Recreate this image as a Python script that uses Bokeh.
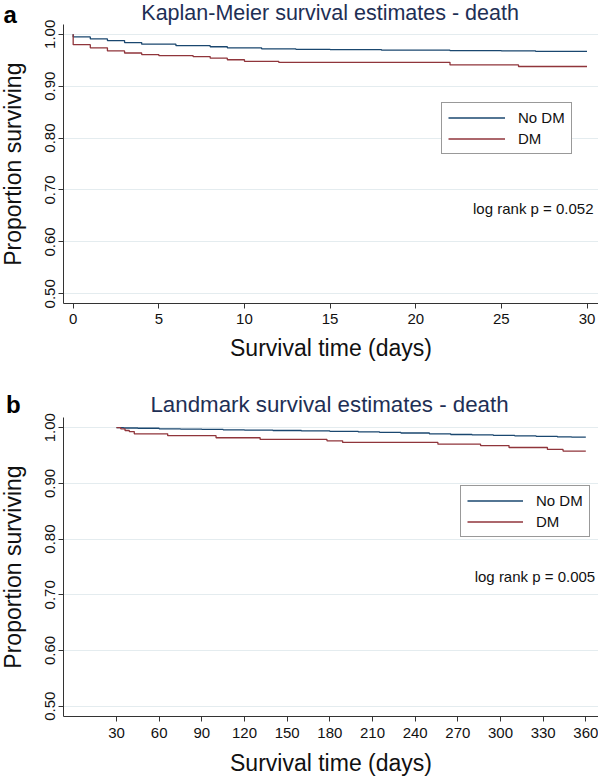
import math
from bokeh.plotting import figure
from bokeh.models import (Range1d, FixedTicker, Legend, LegendItem, Label,
                          PrintfTickFormatter)
from bokeh.layouts import column, row
from bokeh.core.properties import value
from bokeh.embed import file_html
from bokeh.resources import INLINE

# ---------------- data ----------------
# Panel a: Kaplan-Meier, 0-30 days
km_nodm_t = [0, 0, 1, 2, 3, 4, 6, 8, 9, 11, 13, 15, 18, 22, 25, 27, 30]
km_nodm_s = [1.0, 0.995, 0.991, 0.988, 0.984, 0.981, 0.978, 0.976, 0.974,
             0.972, 0.971, 0.9705, 0.9695, 0.9685, 0.968, 0.967, 0.967]
km_dm_t = [0, 0, 1, 2, 3, 4, 5, 7, 8, 9, 10, 12, 22, 26, 30]
km_dm_s = [1.0, 0.980, 0.974, 0.968, 0.964, 0.961, 0.959, 0.957, 0.954,
           0.951, 0.948, 0.946, 0.941, 0.938, 0.938]
km_title = "Kaplan-Meier survival estimates - death"
km_pvalue = "log rank p = 0.052"
km_xticks = [0, 5, 10, 15, 20, 25, 30]

# Panel b: Landmark, 30-360 days
lm_nodm_t = [30, 35, 45, 60, 75, 90, 105, 120, 140, 160, 180, 200, 215, 230,
             250, 265, 280, 295, 310, 325, 340, 350, 360]
lm_nodm_s = [1.0, 0.9995, 0.999, 0.998, 0.9975, 0.997, 0.9962, 0.9955, 0.995,
             0.9942, 0.9935, 0.9925, 0.9915, 0.9905, 0.989, 0.9878, 0.987,
             0.9862, 0.9855, 0.9845, 0.9835, 0.983, 0.983]
lm_dm_t = [30, 33, 36, 39, 42.5, 66, 100, 131, 178, 189, 256, 286, 306, 333,
           344, 360]
lm_dm_s = [1.0, 0.998, 0.995, 0.993, 0.989, 0.9857, 0.982, 0.979, 0.9765,
           0.9735, 0.9705, 0.968, 0.9645, 0.961, 0.958, 0.958]
lm_title = "Landmark survival estimates - death"
lm_pvalue = "log rank p = 0.005"
lm_xticks = [30, 60, 90, 120, 150, 180, 210, 240, 270, 300, 330, 360]

y_ticks = [0.5, 0.6, 0.7, 0.8, 0.9, 1.0]
series_names = ["No DM", "DM"]
panel_letters = ["a", "b"]
y_title = "Proportion surviving"
x_title = "Survival time (days)"

FONT = "Liberation Sans"
BLUE = "#1a476f"
RED = "#90353b"
TITLE_COLOR = "#1e2f55"
AXIS_COLOR = "#333333"
GRID_COLOR = "#e4ecef"
TEXT_COLOR = "#111111"

STRIP_W = 30
TOTAL_H = 779


def make_panel(height, xr, yr, y_axis_top, borders, xticks, t_nodm, s_nodm,
               t_dm, s_dm, title, title_size, title_xy, pval, pval_xy,
               legend_loc, legend_glyph_w, legend_standoff, xlab_standoff,
               xlab_axis_standoff):
    left, right, top, bottom = borders
    p = figure(width=598 - STRIP_W, height=height, x_range=Range1d(*xr),
               y_range=Range1d(*yr), output_backend="svg",
               toolbar_location=None, min_border_left=left,
               min_border_right=right, min_border_top=top,
               min_border_bottom=bottom)
    p.outline_line_color = None
    p.background_fill_color = "white"
    p.border_fill_color = "white"

    p.xaxis.ticker = FixedTicker(ticks=xticks)
    p.yaxis.ticker = FixedTicker(ticks=y_ticks)
    p.yaxis.formatter = PrintfTickFormatter(format="%.2f")
    p.yaxis.major_label_orientation = "vertical"
    p.yaxis.bounds = (yr[0], y_axis_top)
    for ax in (p.xaxis, p.yaxis):
        ax.axis_line_color = AXIS_COLOR
        ax.axis_line_width = 1
        ax.major_tick_line_color = AXIS_COLOR
        ax.major_tick_out = 5
        ax.major_tick_in = 0
        ax.minor_tick_line_color = None
        ax.major_label_text_font = FONT
        ax.major_label_text_font_size = "15px"
        ax.major_label_text_color = TEXT_COLOR
        ax.axis_label_text_font = FONT
        ax.axis_label_text_font_size = "23px"
        ax.axis_label_text_font_style = "normal"
        ax.axis_label_text_color = TEXT_COLOR
    p.xaxis.axis_label = x_title
    p.xaxis.major_label_standoff = xlab_standoff
    p.xaxis.axis_label_standoff = xlab_axis_standoff
    p.yaxis.major_label_standoff = 3

    p.xgrid.grid_line_color = None
    p.ygrid.ticker = FixedTicker(ticks=y_ticks)
    p.ygrid.grid_line_color = GRID_COLOR
    p.ygrid.grid_line_width = 1

    r1 = p.step(t_nodm, s_nodm, mode="after", line_color=BLUE, line_width=1.3)
    r2 = p.step(t_dm, s_dm, mode="after", line_color=RED, line_width=1.3)

    legend = Legend(items=[LegendItem(label=series_names[0], renderers=[r1]),
                           LegendItem(label=series_names[1], renderers=[r2])],
                    location=legend_loc)
    legend.border_line_color = AXIS_COLOR
    legend.border_line_width = 1
    legend.background_fill_color = "white"
    legend.background_fill_alpha = 1
    legend.padding = 6
    legend.spacing = 4
    legend.margin = 0
    legend.glyph_width = legend_glyph_w
    legend.glyph_height = 17
    legend.label_height = 17
    legend.label_standoff = legend_standoff
    legend.label_text_font = FONT
    legend.label_text_font_size = "15px"
    legend.label_text_color = TEXT_COLOR
    p.add_layout(legend)

    p.add_layout(Label(x=title_xy[0], y=title_xy[1], text=title,
                       text_font=FONT, text_font_size=title_size,
                       text_color=TITLE_COLOR, text_align="center",
                       text_baseline="middle"))
    p.add_layout(Label(x=pval_xy[0], y=pval_xy[1], text=pval,
                       text_font=FONT, text_font_size="15px",
                       text_color=TEXT_COLOR, text_align="right",
                       text_baseline="middle"))
    return p


p1 = make_panel(
    380, (-0.565, 30.67), (0.48131, 1.06512), 1.0193, (32, 0, 0, 77),
    km_xticks, km_nodm_t, km_nodm_s, km_dm_t, km_dm_s,
    km_title, "21.5px", (15.0, 1.0405), km_pvalue, (30.38, 0.6642),
    (378, 149), 57, 13, 5, 8)

p2 = make_panel(
    399, (-7.263, 368.92), (0.48151, 1.08475), 1.0189, (33, 0, 0, 63),
    lm_xticks, lm_nodm_t, lm_nodm_s, lm_dm_t, lm_dm_s,
    lm_title, "22.3px", (179.8, 1.0418), lm_pvalue, (366.6, 0.733),
    (397, 179), 56, 13, 6, 9)

# left strip with panel letters and the y-axis titles
strip = figure(width=STRIP_W, height=TOTAL_H, x_range=Range1d(0, STRIP_W),
               y_range=Range1d(0, TOTAL_H), output_backend="svg",
               toolbar_location=None, min_border=0,
               x_axis_location=None, y_axis_location=None)
strip.outline_line_color = None
strip.xgrid.grid_line_color = None
strip.ygrid.grid_line_color = None
strip.background_fill_color = "white"
strip.border_fill_color = "white"

strip.text(x=[3, 5.5], y=[TOTAL_H - 14, TOTAL_H - 404], text=panel_letters,
           text_font=value(FONT), text_font_size="24px",
           text_font_style="bold", text_color="#000000",
           text_align="left", text_baseline="middle")
strip.text(x=[12, 12], y=[TOTAL_H - 163.7, TOTAL_H - 566.5],
           text=[y_title, y_title], angle=math.pi / 2,
           text_font=value(FONT), text_font_size="23px",
           text_color=TEXT_COLOR, text_align="center",
           text_baseline="middle")

layout = row(strip, column(p1, p2, spacing=0), spacing=0)

with open("out.html", "w") as f:
    f.write(file_html(layout, INLINE))
